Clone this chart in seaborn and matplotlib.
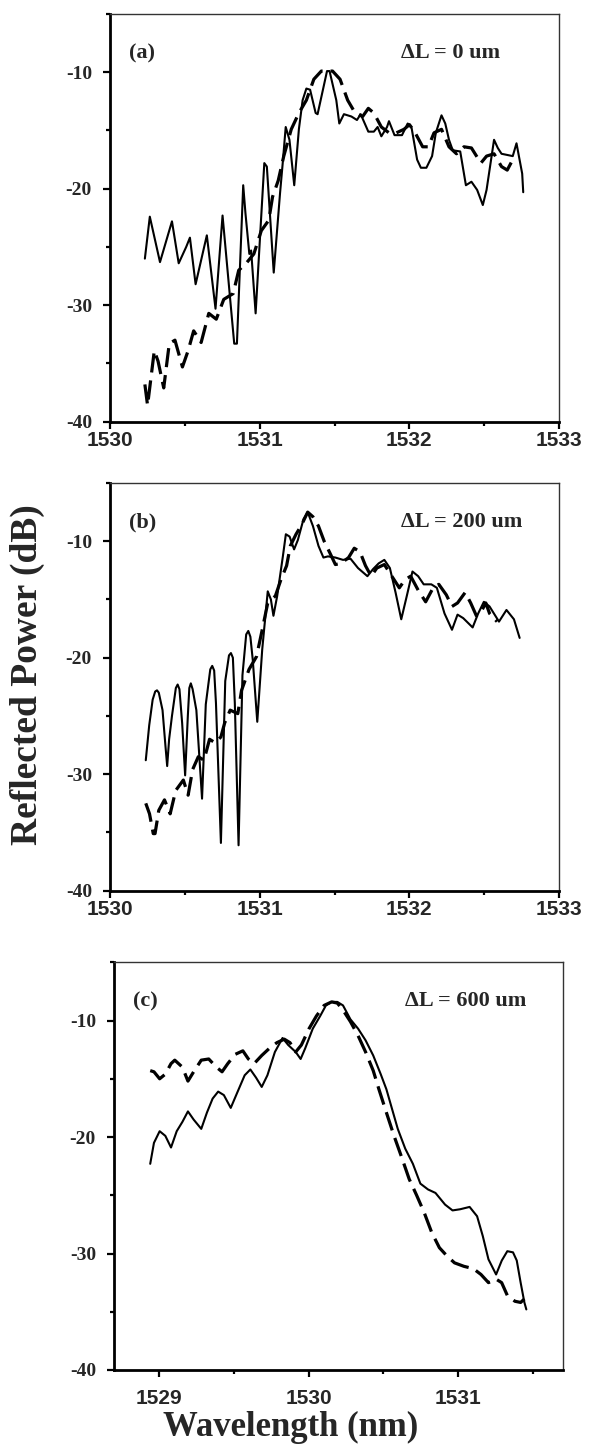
import matplotlib
matplotlib.use("Agg")
import matplotlib.pyplot as plt
import pandas as pd
import seaborn as sns
from matplotlib.ticker import MultipleLocator, FixedLocator

# ---------------- data ----------------
a_solid_x = [1530.233, 1530.266, 1530.334, 1530.414, 1530.459, 1530.509, 1530.534, 1530.572, 1530.647, 1530.705,
             1530.752, 1530.830, 1530.848, 1530.890, 1530.905, 1530.931, 1530.943, 1530.973, 1531.031, 1531.048,
             1531.094, 1531.136, 1531.154, 1531.174, 1531.199, 1531.231, 1531.262, 1531.287, 1531.312, 1531.337,
             1531.374, 1531.387, 1531.450, 1531.467, 1531.512, 1531.532, 1531.563, 1531.613, 1531.650, 1531.675,
             1531.726, 1531.763, 1531.788, 1531.813, 1531.851, 1531.864, 1531.901, 1531.951, 1531.989, 1532.014,
             1532.052, 1532.077, 1532.114, 1532.152, 1532.177, 1532.215, 1532.240, 1532.265, 1532.290, 1532.340,
             1532.378, 1532.415, 1532.453, 1532.491, 1532.516, 1532.566, 1532.591, 1532.616, 1532.654, 1532.691,
             1532.716, 1532.754, 1532.761]
a_solid_y = [-26.0, -22.4, -26.3, -22.8, -26.4, -25.0, -24.2, -28.2, -24.0, -30.3,
             -22.3, -33.3, -33.3, -19.7, -22.1, -25.6, -25.3, -30.7, -17.8, -18.1,
             -27.2, -20.4, -17.8, -14.7, -15.8, -19.7, -14.9, -12.4, -11.4, -11.5,
             -13.5, -13.6, -9.9, -9.9, -12.4, -14.4, -13.6, -13.8, -14.1, -13.6,
             -15.1, -15.1, -14.7, -15.5, -14.7, -14.2, -15.4, -15.4, -14.4, -14.7,
             -17.5, -18.2, -18.2, -17.2, -15.2, -13.7, -14.4, -15.8, -16.7, -16.8,
             -19.7, -19.4, -20.1, -21.4, -20.1, -15.8, -16.5, -17.0, -17.1, -17.2,
             -16.1, -18.7, -20.3]
a_dash_x = [1530.233, 1530.251, 1530.296, 1530.321, 1530.359, 1530.396, 1530.434, 1530.484, 1530.522, 1530.559,
            1530.609, 1530.660, 1530.710, 1530.760, 1530.823, 1530.860, 1530.910, 1530.961, 1531.011, 1531.061,
            1531.086, 1531.124, 1531.161, 1531.211, 1531.262, 1531.312, 1531.362, 1531.412, 1531.487, 1531.537,
            1531.588, 1531.638, 1531.688, 1531.726, 1531.763, 1531.813, 1531.864, 1531.914, 1531.964, 1532.001,
            1532.039, 1532.089, 1532.127, 1532.165, 1532.215, 1532.265, 1532.315, 1532.365, 1532.415, 1532.478,
            1532.516, 1532.566, 1532.616, 1532.654, 1532.691]
a_dash_y = [-36.8, -38.6, -33.9, -34.8, -37.1, -33.3, -33.0, -35.3, -33.9, -32.2,
            -33.2, -30.7, -31.2, -29.5, -29.0, -27.0, -26.4, -25.6, -23.6, -22.7,
            -20.7, -19.3, -17.2, -14.9, -13.5, -12.4, -10.6, -9.9, -9.9, -10.6,
            -12.4, -13.5, -13.8, -13.1, -13.5, -14.7, -15.2, -15.2, -14.9, -14.5,
            -15.2, -16.4, -16.4, -15.2, -14.9, -16.4, -17.0, -16.4, -16.5, -17.8,
            -17.2, -17.0, -18.1, -18.4, -17.5]

b_solid_x = [1530.239, 1530.262, 1530.285, 1530.302, 1530.314, 1530.326, 1530.351, 1530.370, 1530.382, 1530.395,
             1530.414, 1530.440, 1530.452, 1530.464, 1530.482, 1530.502, 1530.520, 1530.530, 1530.540, 1530.552,
             1530.577, 1530.615, 1530.640, 1530.670, 1530.683, 1530.696, 1530.708, 1530.741, 1530.770, 1530.795,
             1530.808, 1530.821, 1530.834, 1530.859, 1530.885, 1530.910, 1530.924, 1530.938, 1530.954, 1530.984,
             1531.017, 1531.054, 1531.075, 1531.092, 1531.117, 1531.155,
             1531.175, 1531.200, 1531.230, 1531.255, 1531.293, 1531.321, 1531.356, 1531.393, 1531.426, 1531.456,
             1531.506, 1531.557, 1531.607, 1531.657, 1531.720, 1531.757, 1531.795, 1531.833, 1531.870, 1531.908,
             1531.946, 1531.983, 1532.021, 1532.059, 1532.096, 1532.147, 1532.184, 1532.235, 1532.285, 1532.322,
             1532.360, 1532.423, 1532.460, 1532.498, 1532.536, 1532.599, 1532.649, 1532.699, 1532.737]
b_solid_y = [-28.8, -25.8, -23.6, -22.9, -22.8, -23.0, -24.5, -27.5, -29.3, -27.0,
             -25.0, -22.6, -22.3, -22.7, -25.6, -30.1, -25.0, -22.6, -22.2, -22.7,
             -24.5, -32.1, -24.0, -21.0, -20.7, -21.1, -23.9, -35.9, -22.0, -19.8,
             -19.6, -20.0, -23.9, -36.1, -21.5, -18.0, -17.7, -18.2, -20.2, -25.5,
             -19.3, -14.3, -15.0, -16.4, -14.7, -11.3,
             -9.4, -9.6, -10.7, -9.9, -8.1, -7.5, -8.7, -10.4, -11.4, -11.3,
             -11.4, -11.6, -11.5, -12.3, -13.0, -12.4, -11.9, -11.6, -12.3, -14.4,
             -16.7, -14.7, -12.6, -13.0, -13.7, -13.7, -14.0, -16.2, -17.6, -16.3,
             -16.6, -17.4, -16.2, -15.2, -15.6, -16.9, -15.9, -16.7, -18.3]
b_dash_x = [1530.239, 1530.264, 1530.289, 1530.301, 1530.326, 1530.364, 1530.402, 1530.439, 1530.490, 1530.522,
            1530.552, 1530.590, 1530.628, 1530.665, 1530.703, 1530.741, 1530.766, 1530.803, 1530.854, 1530.879,
            1530.929, 1530.979, 1531.017, 1531.054, 1531.105, 1531.142, 1531.180, 1531.205, 1531.243, 1531.280,
            1531.321, 1531.356, 1531.393, 1531.431, 1531.469, 1531.506, 1531.544, 1531.594, 1531.632, 1531.670,
            1531.707, 1531.745, 1531.783, 1531.833, 1531.883, 1531.933, 1531.971, 1532.009, 1532.059, 1532.109,
            1532.159, 1532.197, 1532.247, 1532.285, 1532.322, 1532.373, 1532.410, 1532.448, 1532.486, 1532.511,
            1532.536, 1532.586]
b_dash_y = [-32.5, -33.4, -35.1, -35.1, -33.1, -32.2, -33.4, -31.4, -30.5, -31.8,
            -29.6, -28.5, -28.8, -27.0, -27.3, -26.8, -25.6, -24.5, -24.8, -22.8,
            -21.0, -19.9, -17.6, -15.3, -14.7, -13.3, -12.1, -10.4, -9.4, -8.6,
            -7.5, -7.9, -8.7, -10.0, -11.0, -12.0, -11.9, -11.4, -10.6, -10.9,
            -12.1, -13.0, -12.3, -12.0, -13.0, -14.0, -13.3, -13.0, -14.2, -15.2,
            -14.0, -13.7, -14.6, -15.6, -15.3, -14.4, -15.3, -16.4, -15.9, -15.3,
            -16.2, -16.9]

c_solid_x = [1528.942, 1528.967, 1529.005, 1529.043, 1529.081, 1529.119, 1529.157, 1529.194, 1529.232, 1529.283,
             1529.321, 1529.359, 1529.396, 1529.434, 1529.480, 1529.523, 1529.573, 1529.611, 1529.649, 1529.687,
             1529.725, 1529.775, 1529.826, 1529.864, 1529.914, 1529.947, 1529.977, 1530.028, 1530.078, 1530.116,
             1530.154, 1530.192, 1530.230, 1530.280, 1530.331, 1530.381, 1530.432, 1530.482, 1530.520, 1530.558,
             1530.596, 1530.646, 1530.697, 1530.747, 1530.798, 1530.848, 1530.912, 1530.962, 1531.013, 1531.076,
             1531.126, 1531.164, 1531.202, 1531.253, 1531.291, 1531.328, 1531.366, 1531.391, 1531.417, 1531.442,
             1531.455]
c_solid_y = [-22.3, -20.5, -19.5, -19.9, -20.9, -19.5, -18.7, -17.8, -18.5, -19.3,
             -17.9, -16.7, -16.1, -16.4, -17.5, -16.2, -14.7, -14.2, -14.9, -15.7,
             -14.7, -12.7, -11.5, -12.1, -12.7, -13.3, -12.4, -10.7, -9.6, -8.7,
             -8.4, -8.4, -8.7, -9.9, -10.7, -11.7, -13.0, -14.6, -15.9, -17.6,
             -19.3, -21.0, -22.3, -24.0, -24.5, -24.8, -25.8, -26.3, -26.2, -26.0,
             -26.8, -28.5, -30.5, -31.8, -30.6, -29.8, -29.9, -30.6, -32.5, -34.2,
             -34.8]
c_dash_x = [1528.942, 1528.967, 1529.005, 1529.043, 1529.081, 1529.106, 1529.157, 1529.194, 1529.232, 1529.283,
            1529.333, 1529.384, 1529.422, 1529.460, 1529.510, 1529.561, 1529.598, 1529.636, 1529.687, 1529.737,
            1529.788, 1529.838, 1529.876, 1529.914, 1529.952, 1530.003, 1530.053, 1530.104, 1530.154, 1530.192,
            1530.230, 1530.280, 1530.331, 1530.381, 1530.432, 1530.470, 1530.520, 1530.571, 1530.621, 1530.672,
            1530.722, 1530.773, 1530.823, 1530.874, 1530.924, 1530.975, 1531.038, 1531.101, 1531.152, 1531.202,
            1531.253, 1531.290, 1531.328, 1531.379, 1531.417, 1531.442]
c_dash_y = [-14.3, -14.4, -15.0, -14.6, -13.7, -13.4, -14.0, -15.2, -14.4, -13.4,
            -13.3, -14.0, -14.4, -13.7, -12.9, -12.6, -13.3, -13.7, -13.0, -12.4,
            -11.9, -11.6, -11.9, -12.7, -12.1, -10.7, -9.6, -8.7, -8.4, -8.5,
            -9.1, -10.1, -11.3, -12.7, -14.3, -15.9, -17.9, -19.9, -21.7, -23.6,
            -25.0, -26.5, -28.2, -29.5, -30.2, -30.8, -31.1, -31.3, -31.8, -32.5,
            -32.2, -32.5, -33.6, -34.1, -34.2, -33.9]

panel_tags = ["(a)", "(b)", "(c)"]
panel_dl = ["\u0394L = 0 um", "\u0394L = 200 um", "\u0394L = 600 um"]
y_ticks = [-40, -30, -20, -10]
x_ticks_ab = [1530, 1531, 1532, 1533]
x_ticks_c = [1529, 1530, 1531]

# ---------------- style ----------------
sns.set_theme(style="ticks")
plt.rcParams["font.family"] = ["Liberation Serif", "DejaVu Serif"]
plt.rcParams["axes.unicode_minus"] = False

W, H = 589, 1444
fig = plt.figure(figsize=(W / 100, H / 100), dpi=100)

def px_axes(left, top, right, bottom):
    return fig.add_axes([left / W, 1 - bottom / H, (right - left) / W, (bottom - top) / H])

ax_a = px_axes(110, 14, 559, 421.7)
ax_b = px_axes(110, 483, 559, 890.7)
ax_c = px_axes(114, 962.3, 563, 1370)

panels = [
    (ax_a, a_solid_x, a_solid_y, a_dash_x, a_dash_y, (1530, 1533), x_ticks_ab, 2.0),
    (ax_b, b_solid_x, b_solid_y, b_dash_x, b_dash_y, (1530, 1533), x_ticks_ab, 2.0),
    (ax_c, c_solid_x, c_solid_y, c_dash_x, c_dash_y, (1528.70, 1531.70), x_ticks_c, 9.0),
]

for i, (ax, sx, sy, dx, dy, xlim, xt, xpad) in enumerate(panels):
    df_s = pd.DataFrame({"wl": sx, "p": sy})
    df_d = pd.DataFrame({"wl": dx, "p": dy})
    sns.lineplot(data=df_s, x="wl", y="p", ax=ax, color="black", linewidth=1.5,
                 estimator=None, sort=False)
    sns.lineplot(data=df_d, x="wl", y="p", ax=ax, color="black", linewidth=2.3,
                 estimator=None, sort=False, dashes=False, linestyle=(0, (6, 2.5)))
    ax.set_xlim(*xlim)
    ax.set_ylim(-40, -5)
    ax.set_xlabel("")
    ax.set_ylabel("")
    ax.xaxis.set_major_locator(FixedLocator(xt))
    ax.xaxis.set_minor_locator(MultipleLocator(0.5))
    ax.yaxis.set_major_locator(FixedLocator(y_ticks))
    ax.yaxis.set_minor_locator(MultipleLocator(5))
    ax.set_yticks(y_ticks)
    ax.set_yticklabels([str(v) for v in y_ticks], fontfamily="Liberation Serif",
                       fontweight="bold", fontsize=14)
    ax.set_xticks(xt)
    ax.set_xticklabels([str(v) for v in xt], fontfamily="Liberation Sans",
                       fontweight="bold", fontsize=15)
    ax.tick_params(axis="both", which="major", direction="out", length=5, width=1.6,
                   color="black")
    ax.tick_params(axis="both", which="minor", direction="out", length=3, width=1.6,
                   color="black")
    ax.tick_params(axis="x", which="major", pad=xpad)
    ax.tick_params(axis="y", which="major", pad=8)
    for side in ["left", "bottom"]:
        ax.spines[side].set_linewidth(2.0)
        ax.spines[side].set_color("black")
    for side in ["top", "right"]:
        ax.spines[side].set_visible(True)
        ax.spines[side].set_linewidth(1.0)
        ax.spines[side].set_color("#333333")
    ax.text(0.042, 0.904, panel_tags[i], transform=ax.transAxes, fontsize=16,
            fontweight="bold", ha="left", va="center", fontfamily="Liberation Serif")
    ax.text(0.648, 0.904, panel_dl[i], transform=ax.transAxes, fontsize=16,
            fontweight="bold", ha="left", va="center", fontfamily="Liberation Serif")

fig.text(27 / W, 1 - 675 / H, "Reflected Power (dB)", rotation=90, ha="center",
         va="center", fontsize=27, fontweight="bold", fontfamily="Liberation Serif")
fig.text(291 / W, 1 - 1427 / H, "Wavelength (nm)", ha="center", va="center",
         fontsize=25, fontweight="bold", fontfamily="Liberation Serif")

fig.savefig("out.png", dpi=100)
